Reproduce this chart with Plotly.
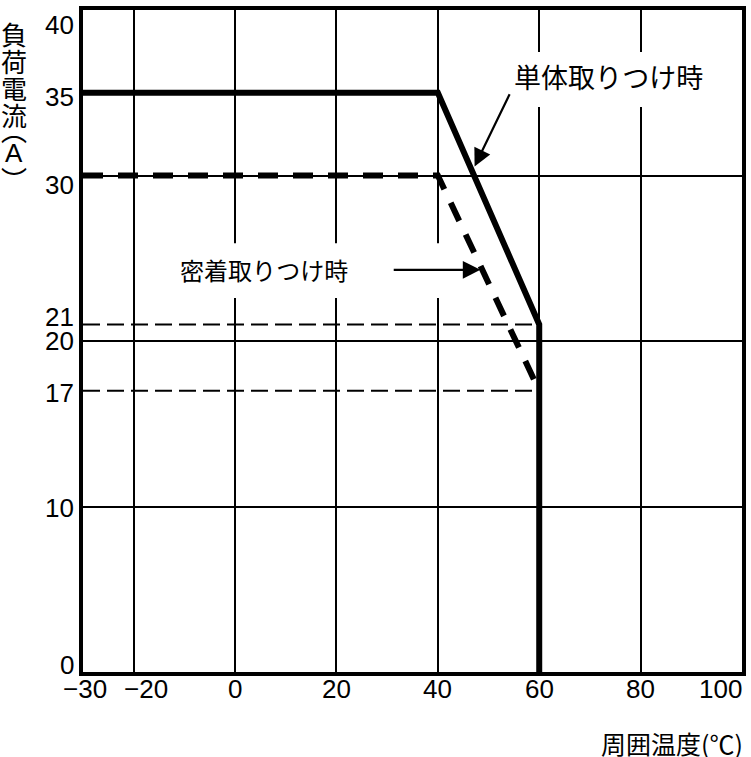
import plotly.graph_objects as go

# ---- data ----
single_x = [-30, 40, 60, 60]
single_y = [35, 35, 21, 0]
close_x = [-30, 40, 60]
close_y = [30, 30, 17]
ref_levels = [21, 17]          # thin dashed reference levels
ref_x_end = 60
x_grid = [-20, 0, 20, 40, 60, 80]
y_grid = [10, 20, 30]
x_ticks = [-30, -20, 0, 20, 40, 60, 80, 100]
x_tick_text = ["−30", "−20", "0", "20", "40", "60", "80", "100"]
y_ticks = [0, 10, 17, 20, 21, 30, 35, 40]
y_tick_text = ["0", "10", "17", "20", "21", "30", "35", "40"]
label_single = "単体取りつけ時"
label_close = "密着取りつけ時"
x_title = "周囲温度(℃)"
y_title_chars = ["負", "荷", "電", "流", "︵", "A", "︶"]

# ---- style / position helpers (not data) ----
x_nudge = {-30: 2, -20: 12, 100: -22}
y_nudge = {40: -15, 35: -4, 30: -9, 21: 7, 20: 0, 17: -2, 10: -1, 0: 7}
y_title_offsets = [23, 50, 77, 104, 119, 143, 168]   # px below plot top
FONT = "Liberation Sans, Arial, Noto Sans CJK JP"
CJK = "Noto Sans CJK JP, Liberation Sans"

fig = go.Figure()

for lv in ref_levels:
    fig.add_trace(go.Scatter(x=[-30, ref_x_end], y=[lv, lv], mode="lines",
                             line=dict(color="black", width=2, dash="17px,7px"),
                             hoverinfo="skip", showlegend=False))

fig.add_trace(go.Scatter(x=close_x, y=close_y, mode="lines",
                         line=dict(color="black", width=6, dash="20px,15px"),
                         showlegend=False))
fig.add_trace(go.Scatter(x=single_x, y=single_y, mode="lines",
                         line=dict(color="black", width=6),
                         showlegend=False))

# white boxes behind labels (break the gridlines)
fig.add_shape(type="rect", x0=52.7, x1=94.9, y0=34.14, y1=37.46, layer="between",
              fillcolor="white", line=dict(width=0))
fig.add_shape(type="rect", x0=-10, x1=42.0, y0=22.6, y1=25.9, layer="between",
              fillcolor="white", line=dict(width=0))

ann = []
# labels
ann.append(dict(x=73.7, y=36.0, xref="x", yref="y", text=label_single, showarrow=False,
                font=dict(family=CJK, size=27, color="black")))
ann.append(dict(x=-11.2, y=24.3, xref="x", yref="y", text=label_close, showarrow=False,
                xanchor="left", font=dict(family=CJK, size=24, color="black")))
# arrows
ann.append(dict(x=47.25, y=30.55, ax=54.3, ay=35.0, xref="x", yref="y", axref="x", ayref="y",
                text="", showarrow=True, arrowhead=2, arrowsize=1.6, arrowwidth=2.2,
                arrowcolor="black"))
ann.append(dict(x=48.4, y=24.3, ax=31.0, ay=24.3, xref="x", yref="y", axref="x", ayref="y",
                text="", showarrow=True, arrowhead=2, arrowsize=1.6, arrowwidth=2.2,
                arrowcolor="black"))

# tick labels
for v, t in zip(x_ticks, x_tick_text):
    ann.append(dict(x=v, y=0, xref="x", yref="paper", text=t, showarrow=False,
                    yanchor="middle", yshift=-17, xshift=x_nudge.get(v, 0),
                    font=dict(family=FONT, size=26, color="black")))
for v, t in zip(y_ticks, y_tick_text):
    ann.append(dict(x=0, y=v, xref="paper", yref="y", text=t, showarrow=False,
                    xanchor="right", yanchor="middle", xshift=-7, yshift=y_nudge.get(v, 0),
                    font=dict(family=FONT, size=26, color="black")))

# axis titles
ann.append(dict(x=1, y=0, xref="paper", yref="paper", text=x_title, showarrow=False,
                xanchor="right", yanchor="middle", yshift=-71, xshift=3,
                font=dict(family=CJK, size=25, color="black")))
for ch, off in zip(y_title_chars, y_title_offsets):
    fam = FONT if ch == "A" else CJK
    ann.append(dict(x=0, y=1, xref="paper", yref="paper", text=ch, showarrow=False,
                    xanchor="center", yanchor="middle", xshift=-69, yshift=-off,
                    font=dict(family=fam, size=26, color="black")))

fig.update_layout(
    width=751, height=757,
    margin=dict(l=83, r=5, t=10, b=85),
    paper_bgcolor="white", plot_bgcolor="white",
    annotations=ann,
    xaxis=dict(range=[-30, 100], tickvals=x_grid, showticklabels=False, ticks="",
               showgrid=True, gridcolor="black", gridwidth=2, zeroline=False,
               showline=True, linecolor="black", linewidth=4, mirror=True),
    yaxis=dict(range=[0, 40], tickvals=y_grid, showticklabels=False, ticks="",
               showgrid=True, gridcolor="black", gridwidth=2, zeroline=False,
               showline=True, linecolor="black", linewidth=4, mirror=True),
)

fig.write_html("out.html", config={"displayModeBar": False},
               post_script="document.body.style.margin='0';")
